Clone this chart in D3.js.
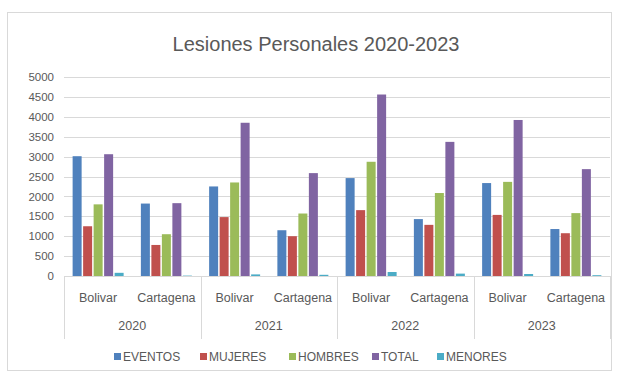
<!DOCTYPE html>
<html><head><meta charset="utf-8">
<script src="https://cdn.jsdelivr.net/npm/d3@7"></script>
<style>body{margin:0;background:#fff}svg{display:block}text{font-family:"Liberation Sans",Arial,sans-serif}</style>
</head><body><svg id="c" width="617" height="377"></svg>
<script>
const years = ["2020","2021","2022","2023"];
const places = ["Bolivar","Cartagena"];
const seriesNames = ["EVENTOS","MUJERES","HOMBRES","TOTAL","MENORES"];
const colors = ["#4F81BD","#C0504D","#9BBB59","#8064A2","#4BACC6"];
const yTicks = [0,500,1000,1500,2000,2500,3000,3500,4000,4500,5000];
// values per category in order: 2020 Bolivar, 2020 Cartagena, 2021 Bolivar, ...
const eventos = [3010,1820,2250,1150,2460,1430,2335,1180];
const mujeres = [1250,780,1480,1000,1655,1285,1535,1075];
const hombres = [1800,1050,2350,1570,2870,2085,2365,1580];
const total   = [3060,1830,3850,2585,4560,3370,3920,2685];
const menores = [80,10,40,30,100,60,50,20];
const seriesValues = [eventos,mujeres,hombres,total,menores];

(function(){
const svg = d3.select("#c");
svg.append("rect").attr("x",7.5).attr("y",12.5).attr("width",604).attr("height",358)
  .attr("fill","#fff").attr("stroke","#d9d9d9");

const pl=64,pr=610,pt=77,pb=276;
const cats = [];
years.forEach(yy=>places.forEach(p=>cats.push(yy+"|"+p)));
const x0 = d3.scaleBand().domain(cats).range([pl,pr]).paddingInner(1.5/6.5).paddingOuter(0.75/6.5);
const xOuter = d3.scaleBand().domain(cats).range([pl,pr]);
const x1 = d3.scaleBand().domain(seriesNames).range([0,x0.bandwidth()]);
const y = d3.scaleLinear().domain([0,5000]).range([pb,pt]);

svg.append("text").attr("x",316).attr("y",51).attr("text-anchor","middle")
  .attr("font-size",20).attr("fill","#595959").text("Lesiones Personales 2020-2023");

svg.append("g").selectAll("line").data(yTicks.filter(d=>d>0)).join("line")
  .attr("x1",pl).attr("x2",pr).attr("y1",d=>Math.round(y(d))+0.5).attr("y2",d=>Math.round(y(d))+0.5)
  .attr("stroke","#d9d9d9");

const yAxis = d3.axisLeft(y).tickValues(yTicks).tickFormat(d3.format("d")).tickSize(0).tickPadding(0);
const ga = svg.append("g").attr("transform",`translate(54,0)`).call(yAxis);
ga.select(".domain").remove();
ga.selectAll("text").attr("font-size",11.5).attr("fill","#595959").attr("font-family","Liberation Sans, Arial, sans-serif");

const gBars = svg.append("g");
cats.forEach((c,ci)=>{
  seriesNames.forEach((s,si)=>{
    const v = seriesValues[si][ci];
    gBars.append("rect")
      .attr("x",x0(c)+x1(s)+0.75).attr("width",x1.bandwidth()-1.5)
      .attr("y",y(v)).attr("height",pb-y(v)).attr("fill",colors[si]);
  });
});

svg.append("line").attr("x1",pl).attr("x2",pr).attr("y1",pb+0.5).attr("y2",pb+0.5).attr("stroke","#d9d9d9");
const sepX = years.map(yy=>xOuter(yy+"|"+places[0])).concat([pr]);
svg.append("g").selectAll("line").data(sepX).join("line")
  .attr("x1",d=>Math.round(d)+0.5).attr("x2",d=>Math.round(d)+0.5).attr("y1",pb).attr("y2",339)
  .attr("stroke","#d9d9d9");
svg.append("g").selectAll("text").data(cats).join("text")
  .attr("x",d=>xOuter(d)+xOuter.bandwidth()/2).attr("y",302).attr("text-anchor","middle")
  .attr("font-size",12.5).attr("fill","#595959").text(d=>d.split("|")[1]);
svg.append("g").selectAll("text").data(years).join("text")
  .attr("x",d=>xOuter(d+"|"+places[0])+xOuter.bandwidth()).attr("y",330).attr("text-anchor","middle")
  .attr("font-size",12.5).attr("fill","#595959").text(d=>d);

const legX = [114,200,289,372,437];
const lg = svg.append("g");
seriesNames.forEach((s,i)=>{
  lg.append("rect").attr("x",legX[i]).attr("y",353).attr("width",7).attr("height",7).attr("fill",colors[i]);
  lg.append("text").attr("x",legX[i]+9).attr("y",361).attr("font-size",12).attr("fill","#595959").text(s);
});
})();
</script></body></html>
